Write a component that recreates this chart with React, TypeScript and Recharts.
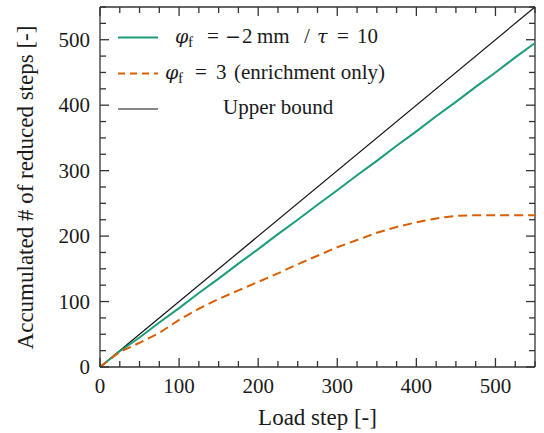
import React from "react";
import { LineChart, Line, XAxis, YAxis, ReferenceLine, Customized } from "recharts";

const loadSteps = [0, 25, 50, 75, 100, 125, 150, 175, 200, 225, 250, 275, 300, 325, 350, 375, 400, 425, 450, 475, 500, 525, 550];
const adaptiveReduced = [0, 24, 45, 68, 90, 113, 135, 158, 180, 203, 225, 248, 270, 293, 315, 338, 360, 383, 405, 428, 450, 473, 495];
const enrichmentReduced = [0, 23, 37, 52, 72, 89, 104, 117, 130, 143, 157, 170, 183, 194, 205, 214, 221, 227, 231, 232, 232, 232, 232];
const upperBoundSteps = [0, 550];
const upperBound = [0, 550];

const axisTicks = loadSteps;
const axisMax = 550;

const FONT = "Liberation Serif";
const MATH_FONT = "DejaVu Serif";
const SPINE = "#333333";
const TEXT = "#1a1a1a";
const GREEN = "#1b9e77";
const ORANGE = "#d95f02";
const BLACK = "#111111";

// plot box edges, from the chart margins
const PLOT_TOP = 7;
const PLOT_RIGHT = 544 - 9;

const legendRows = [37.5, 73.5, 109];

const adaptiveData = loadSteps.map((s, i) => ({ step: s, value: adaptiveReduced[i] }));
const enrichmentData = loadSteps.map((s, i) => ({ step: s, value: enrichmentReduced[i] }));
const upperData = upperBoundSteps.map((s, i) => ({ step: s, value: upperBound[i] }));

const isMajor = (v: number) => v % 100 === 0;

function XTick(props: any) {
  const { x, y, payload } = props;
  const v = payload.value;
  const len = isMajor(v) ? 9 : 6;
  return (
    <g>
      <line x1={x} x2={x} y1={y} y2={y - len} stroke={SPINE} strokeWidth={1.3} />
      <line x1={x} x2={x} y1={PLOT_TOP} y2={PLOT_TOP + len} stroke={SPINE} strokeWidth={1.3} />
      {isMajor(v) && (
        <text x={x} y={y + 26} textAnchor="middle" fontFamily={FONT} fontSize={21} fill={TEXT}>
          {v}
        </text>
      )}
    </g>
  );
}

function YTick(props: any) {
  const { x, y, payload } = props;
  const v = payload.value;
  const len = isMajor(v) ? 9 : 6;
  return (
    <g>
      <line x1={x} x2={x + len} y1={y} y2={y} stroke={SPINE} strokeWidth={1.3} />
      <line x1={PLOT_RIGHT} x2={PLOT_RIGHT - len} y1={y} y2={y} stroke={SPINE} strokeWidth={1.3} />
      {isMajor(v) && (
        <text x={x - 10} y={y + 7} textAnchor="end" fontFamily={FONT} fontSize={21} fill={TEXT}>
          {v}
        </text>
      )}
    </g>
  );
}

function LegendLines() {
  return (
    <g>
      <line x1={118} x2={158} y1={legendRows[0]} y2={legendRows[0]} stroke={GREEN} strokeWidth={2} />
      <line x1={118} x2={158} y1={legendRows[1]} y2={legendRows[1]} stroke={ORANGE} strokeWidth={2} strokeDasharray="7 5" />
      <line x1={118} x2={158} y1={legendRows[2]} y2={legendRows[2]} stroke={BLACK} strokeWidth={1.2} />
    </g>
  );
}

// html overlay text (baseline of a 21px Liberation Serif line sits ~17.6px below its top)
const piece = (w: number | undefined, extra: React.CSSProperties = {}): React.CSSProperties => ({
  display: "inline-block",
  width: w,
  ...extra,
});
const greek: React.CSSProperties = { fontFamily: MATH_FONT, fontStyle: "italic", fontSize: 19 };
const sub: React.CSSProperties = { fontSize: 15, verticalAlign: -4 };

function rowStyle(left: number, baseline: number): React.CSSProperties {
  return {
    position: "absolute",
    left,
    top: baseline - 17.6,
    fontFamily: FONT,
    fontSize: 21,
    lineHeight: "21px",
    color: TEXT,
    whiteSpace: "nowrap",
  };
}

function LegendText() {
  const base = legendRows.map((r) => r + 6);
  return (
    <>
      <div style={rowStyle(175, base[0])}>
        <span style={piece(13, greek)}>φ</span>
        <span style={piece(19, sub)}>f</span>
        <span style={piece(18)}>=</span>
        <span style={piece(17, { fontFamily: MATH_FONT, fontSize: 19 })}>−</span>
        <span style={piece(15)}>2</span>
        <span style={piece(47)}>mm</span>
        <span style={piece(13)}>/</span>
        <span style={piece(20, greek)}>τ</span>
        <span style={piece(20)}>=</span>
        <span>10</span>
      </div>
      <div style={rowStyle(165, base[1])}>
        <span style={piece(13, greek)}>φ</span>
        <span style={piece(17, sub)}>f</span>
        <span style={piece(21)}>=</span>
        <span style={piece(18)}>3</span>
        <span>(enrichment only)</span>
      </div>
      <div style={rowStyle(223, base[2])}>Upper bound</div>
    </>
  );
}

function YLabel() {
  const cx = 25.2;
  const cy = 187;
  return (
    <div
      style={{
        position: "absolute",
        left: cx - 170,
        top: cy - 11.5,
        width: 340,
        height: 23,
        lineHeight: "23px",
        textAlign: "center",
        fontFamily: FONT,
        fontSize: 23,
        color: TEXT,
        whiteSpace: "nowrap",
        transform: "rotate(-90deg)",
      }}
    >
      Accumulated # of reduced steps [-]
    </div>
  );
}

export default function App() {
  return (
    <div style={{ position: "absolute", left: 0, top: 0, width: 544, height: 433, background: "#fff" }}>
      <LineChart width={544} height={433} margin={{ top: PLOT_TOP, right: 9, left: 0, bottom: 0 }}>
        <XAxis
          xAxisId="x"
          dataKey="step"
          type="number"
          domain={[0, axisMax]}
          ticks={axisTicks}
          interval={0}
          height={66}
          tickSize={0}
          tickMargin={0}
          tickLine={false}
          tick={<XTick />}
          axisLine={{ stroke: SPINE, strokeWidth: 1.3 }}
          label={{ value: "Load step [-]", position: "insideBottom", offset: 8, fontFamily: FONT, fontSize: 23, fill: TEXT }}
        />
        <YAxis
          yAxisId="y"
          type="number"
          domain={[0, axisMax]}
          ticks={axisTicks}
          interval={0}
          width={100}
          tickSize={0}
          tickMargin={0}
          tickLine={false}
          tick={<YTick />}
          axisLine={{ stroke: SPINE, strokeWidth: 1.3 }}
        />
        <ReferenceLine xAxisId="x" yAxisId="y" y={axisMax} stroke={SPINE} strokeWidth={1.3} />
        <ReferenceLine xAxisId="x" yAxisId="y" x={axisMax} stroke={SPINE} strokeWidth={1.3} />
        <Line xAxisId="x" yAxisId="y" data={upperData} dataKey="value" stroke={BLACK} strokeWidth={1.2} dot={false} isAnimationActive={false} />
        <Line xAxisId="x" yAxisId="y" data={adaptiveData} dataKey="value" stroke={GREEN} strokeWidth={2} dot={false} isAnimationActive={false} />
        <Line xAxisId="x" yAxisId="y" data={enrichmentData} dataKey="value" stroke={ORANGE} strokeWidth={2} strokeDasharray="9 5" dot={false} isAnimationActive={false} />
        <Customized component={LegendLines} />
      </LineChart>
      <YLabel />
      <LegendText />
    </div>
  );
}
